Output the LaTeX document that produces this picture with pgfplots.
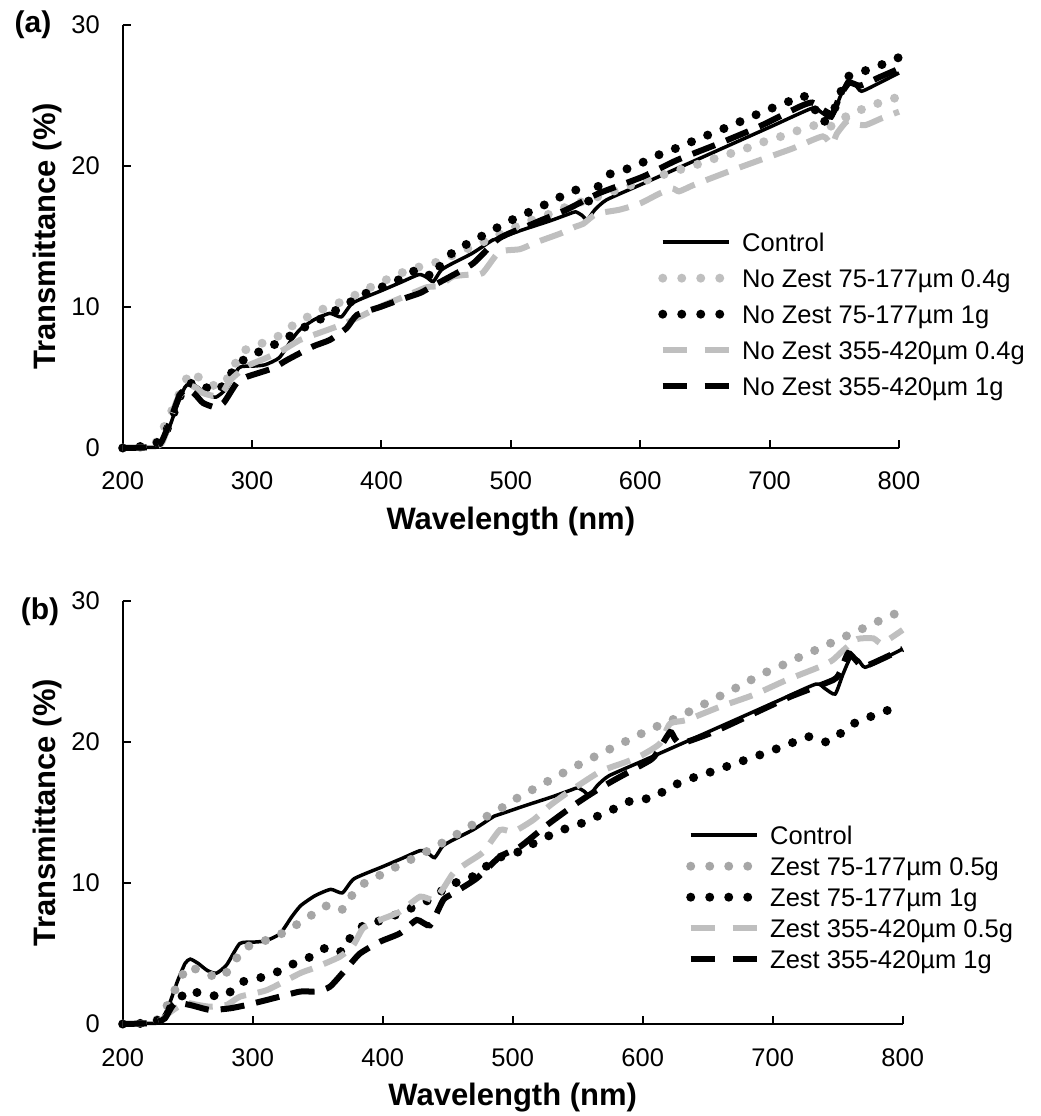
\documentclass[border=0pt]{standalone}
\usepackage{fontspec}
\setmainfont{Liberation Sans}
\usepackage{pgfplots}
\usepackage{pgfplotstable}
\pgfplotsset{compat=1.18}
\definecolor{lg}{HTML}{BFBFBF}
\definecolor{mg}{HTML}{A6A6A6}

% ---------- data ----------
\pgfplotstableread{
x y
200 0
215 0.05
228 0.1
235 1.2
242 3.0
248 4.3
252 4.6
258 4.3
265 3.8
272 3.6
280 4.2
290 5.7
300 5.8
310 5.9
321 6.4
330 7.6
337 8.4
348 9.1
360 9.55
369 9.3
378 10.3
400 11.16
415 11.75
429 12.3
435 12.1
440 11.8
446 12.6
453 13.0
470 13.8
486 14.75
491 14.9
510 15.5
530 16.1
545 16.6
550 16.75
555 16.5
559 16.2
565 16.9
574 17.6
600 18.66
650 20.7
700 22.75
733 24.1
740 23.8
748 23.4
754 24.8
760 26.0
766 25.8
771 25.3
785 25.9
800 26.6
}\ctrl

\pgfplotstableread{
x y
200 0
215 0.05
225 0.3
232 1.5
240 3.05
247 4.5
253 5.4
260 4.9
265 4.6
272 4.4
278 4.5
285 5.6
292 6.8
304 7.3
318 7.8
330 8.6
343 9.3
356 9.9
370 10.4
383 11.0
396 11.6
409 12.15
423 12.7
437 13.0
450 13.45
463 14.0
476 14.5
490 15.1
505 15.75
517 16.2
530 16.6
543 17.1
556 17.5
570 17.9
585 18.4
600 18.85
612 19.2
625 19.6
639 19.95
653 20.4
667 20.8
682 21.25
695 21.7
709 22.1
723 22.55
736 22.9
746 22.8
752 23.0
762 23.7
774 24.1
787 24.55
800 24.9
}\aA

\pgfplotstableread{
x y
200 0
213 0.1
225 0.3
231 0.8
236.5 1.75
247 4.2
257 4.7
263 4.4
270 4.0
280 4.6
287 5.8
298 6.5
312 7.1
325 7.7
337 8.4
350 9.0
363 9.67
375 10.3
388 10.97
401 11.44
415 12.0
428 12.67
436 12.3
441 12.15
447.5 13.3
459 14.1
472 14.75
485 15.4
498 16.05
511 16.6
525 17.2
538 17.8
550 18.3
555 17.9
560 17.5
567 18.5
576 19.4
590 19.8
603 20.3
617 20.9
632 21.4
644 21.9
658 22.4
671 22.9
685 23.45
698 23.97
712 24.45
725 25.0
733 24.4
740 23.1
748 23.6
754 25.0
760 26.3
774 26.76
787 27.2
800 27.7
}\aB

\pgfplotstableread{
x y
200 0
220 0.05
230 0.3
236 1.8
242 3.4
250 4.4
256 4.3
262 3.9
270 3.7
277 3.9
283 4.8
296 5.8
310 6.35
323 6.9
337 7.66
350 8.1
368 8.7
383 9.3
401 10.1
418 10.75
435 11.4
445 11.5
455 12.15
468 12.3
478 12.4
491 13.9
507 14.1
520 14.6
538 15.2
550 15.7
556 15.9
566 16.6
584 16.9
600 17.35
615 18.05
625 18.4
630 18.2
640 18.6
651 19.0
671 19.7
692 20.4
718 21.25
741 22.1
748 21.5
752 22.3
760 23.2
765 23.0
774 22.9
787 23.4
800 23.85
}\aC

\pgfplotstableread{
x y
200 0
220 0.05
229 0.3
235 1.5
244 3.75
250 4.2
256 3.8
262 3.2
271 2.9
278 3.2
288 4.6
296 5.05
316 5.65
327 6.24
347 7.2
360 7.66
373 8.5
381 9.43
399 10.0
414 10.5
430 11.0
441 11.56
453 12.15
471 13.1
491 14.87
517 15.9
522 16.1
543 16.9
568 18.06
602 19.24
628 20.4
661 21.6
692 22.8
723 24.2
733 24.5
741 24.0
748.6 23.7
754 24.9
761.5 25.9
770 25.7
785 26.3
800 26.9
}\aD

\pgfplotstableread{
x y
200 0
215 0.05
225 0.2
231 0.8
236.4 1.7
242.8 2.9
249.7 4.06
256 3.9
263.3 3.6
276 3.3
285 4.3
293.3 5.37
307.4 5.84
320 6.3
333 7.0
345.4 7.73
358 8.44
364 8.4
370 8.13
377.4 9.27
387.7 10.1
401 10.69
414 11.33
427 11.9
439.7 12.53
452.5 13.2
464.6 13.88
477.4 14.59
490.2 15.25
503 16.0
515.8 16.65
528.7 17.3
541.5 17.94
554.3 18.56
567.2 19.15
580 19.74
592.8 20.3
605.6 20.9
619.7 21.44
632.5 22.0
645.4 22.6
658.2 23.2
671 23.8
684.3 24.45
697.4 25.06
710.8 25.58
724 26.17
737.7 26.7
750.5 27.28
763.8 27.8
777 28.4
790 28.9
800 29.4
}\bA

\pgfplotstableread{
x y
200 0
215 0.05
225 0.2
231 0.5
240 1.47
251 2.4
258 2.2
265 2.06
279 2.0
290.2 2.93
304.3 3.24
318 3.66
331.2 4.26
344.6 4.77
357 5.44
364 5.3
369.7 5.13
376.6 6.36
387 7.07
400.5 7.38
414 7.9
427.4 8.44
440.2 9.03
451.2 9.9
464.6 10.2
476 10.9
487.7 11.75
501.8 12.1
514.6 12.74
527.4 13.33
541.5 13.88
554.3 14.28
567.2 14.82
580 15.34
594 15.95
607 16.0
618.5 16.65
631.2 17.23
645.4 17.66
659 18.08
672.8 18.53
686.4 18.96
700.5 19.43
713.8 19.9
727.4 20.38
741.5 20.0
753 20.66
765.8 21.5
778.7 21.9
792.8 22.4
800 22.6
}\bB

\pgfplotstableread{
x y
200 0
220 0.05
230 0.3
236 0.8
242.8 1.23
250.5 1.47
258 1.35
267 1.23
280 1.35
290.2 1.94
310.8 2.4
336.4 3.6
346.6 3.95
367 4.77
377.4 5.6
385 6.8
398 7.38
413.3 7.97
428.7 9.03
439 8.8
446.6 9.62
454.3 10.7
464.6 11.4
477.4 12.2
490.2 13.76
500.5 13.64
515.8 14.47
528.7 15.5
541.5 16.36
567.2 17.9
587.7 18.6
600 19.1
613.3 19.9
621 21.3
633.8 21.56
659.5 22.5
685 23.33
710.8 24.4
736.4 25.34
746 25.8
754.3 26.5
765 27.3
777.4 27.35
784 27.0
800 27.95
}\bC

\pgfplotstableread{
x y
200 0
220 0.05
228 0.2
232.5 0.4
240 1.47
251.8 1.35
267 1.0
282.5 1.11
295.4 1.35
315.8 1.82
336.4 2.3
349.2 2.3
359.5 2.65
372.3 3.95
382.5 5.0
398 5.84
413.3 6.43
426.2 7.38
436.4 7.0
446.6 8.8
454.3 9.27
472.3 10.33
490.2 11.87
505.6 12.57
526.2 14.1
549.2 15.65
565 16.6
580 17.4
605.6 18.7
610.8 19.2
621 20.7
625 20.2
630 19.9
654.3 20.7
685 22.0
713.3 23.2
746.6 24.4
752 25.0
758 26.3
764 25.8
769.7 25.34
785 25.93
800 26.6
}\bD

\pgfplotsset{
  ctrlst/.style={black, line width=3.5bp, smooth, tension=0.35},
  dotst/.style={line width=9bp, line cap=round, dash pattern=on 0bp off 17.5bp, smooth, tension=0.35,
     legend image code/.code={\draw[##1, dash pattern=on 0bp off 19bp] (0bp,0bp) -- (66bp,0bp);}},
  dashst/.style={line width=6bp, line cap=butt, dash pattern=on 24bp off 12bp, smooth, tension=0.35,
     legend image code/.code={\draw[##1, dash pattern=on 24bp off 18bp] (0bp,0bp) -- (66bp,0bp);}},
  myaxis/.style={
    scale only axis,
    height=423bp,
    xmin=200, xmax=800, ymin=0, ymax=30,
    xtick={200,300,...,800}, ytick={0,10,20,30},
    axis x line=bottom, axis y line=left,
    x axis line style={-}, y axis line style={-},
    axis line style={line width=2bp, black},
    tick style={line width=2bp, black},
    tick align=inside, major tick length=8bp,
    clip=false,
    /pgf/number format/assume math mode=true,
    tick label style={font=\fontsize{25.5bp}{30bp}\selectfont, inner sep=0pt},
    xticklabel style={anchor=north, yshift=-24bp},
    yticklabel style={anchor=east, xshift=-22.7bp},
    label style={font=\bfseries\fontsize{31bp}{36bp}\selectfont, inner sep=0pt},
    xlabel={Wavelength (nm)},
    ylabel={Transmittance (\%)},
    xlabel style={at={(axis description cs:0.5,-0.1395)}, anchor=north},
    legend image code/.code={\draw[#1] (0bp,0bp) -- (66bp,0bp);},
    legend cell align=left,
  },
}

\begin{document}
\begin{tikzpicture}[x=1bp,y=1bp]
\useasboundingbox (0,0) rectangle (1041,1116);

% ---------- panel (a) ----------
\begin{axis}[myaxis, width=776.3bp, at={(122.7bp,668bp)}, anchor=south west,
  ylabel style={at={(axis description cs:-0.0782,0.5)}, anchor=south},
  legend style={at={(axis description cs:0.6896,0.5083)}, anchor=north west,
    draw=none, fill=none, inner sep=0pt, row sep=18bp, column sep=9bp,
    font=\fontsize{25.5bp}{30bp}\selectfont,
    nodes={inner sep=0pt, text height=18bp, text depth=0pt}},
]
\addplot[ctrlst] table {\ctrl};
\addlegendentry{Control}
\addplot[dotst, color=lg] table {\aA};
\addlegendentry{No Zest 75-177µm 0.4g}
\addplot[dotst, color=black] table {\aB};
\addlegendentry{No Zest 75-177µm 1g}
\addplot[dashst, color=lg] table {\aC};
\addlegendentry{No Zest 355-420µm 0.4g}
\addplot[dashst, color=black] table {\aD};
\addlegendentry{No Zest 355-420µm 1g}
\end{axis}

% ---------- panel (b) ----------
\begin{axis}[myaxis, width=780bp, at={(122.7bp,92bp)}, anchor=south west,
  ylabel style={at={(axis description cs:-0.0778,0.5)}, anchor=south},
  legend style={at={(axis description cs:0.7222,0.4681)}, anchor=north west,
    draw=none, fill=none, inner sep=0pt, row sep=13bp, column sep=9bp,
    font=\fontsize{25.5bp}{30bp}\selectfont,
    nodes={inner sep=0pt, text height=18bp, text depth=0pt}},
]
\addplot[ctrlst] table {\ctrl};
\addlegendentry{Control}
\addplot[dotst, color=mg] table {\bA};
\addlegendentry{Zest 75-177µm 0.5g}
\addplot[dotst, color=black] table {\bB};
\addlegendentry{Zest 75-177µm 1g}
\addplot[dashst, color=lg] table {\bC};
\addlegendentry{Zest 355-420µm 0.5g}
\addplot[dashst, color=black] table {\bD};
\addlegendentry{Zest 355-420µm 1g}
\end{axis}

\node[font=\bfseries\fontsize{30bp}{34bp}\selectfont, inner sep=0pt] at (33,1091) {(a)};
\node[font=\bfseries\fontsize{30bp}{34bp}\selectfont, inner sep=0pt] at (40,504.5) {(b)};
\end{tikzpicture}
\end{document}
